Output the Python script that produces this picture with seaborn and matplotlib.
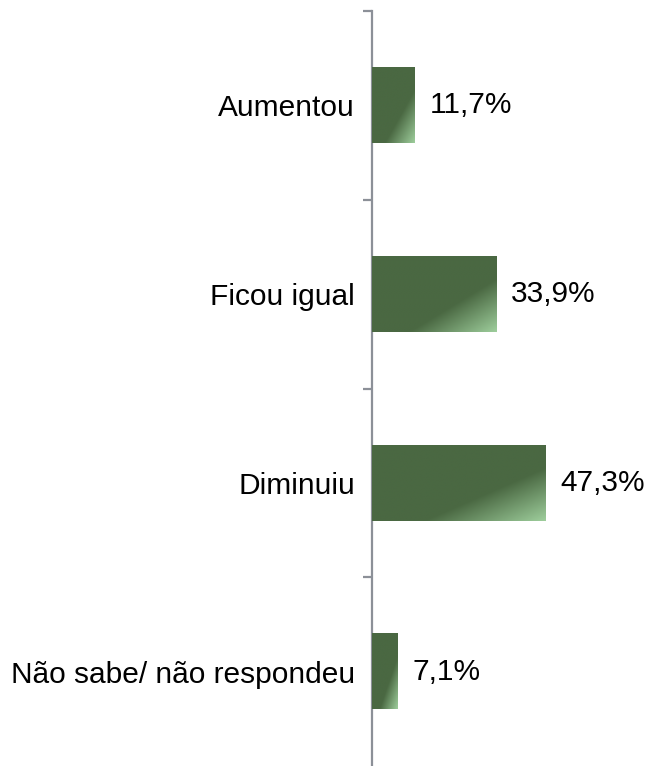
import numpy as np
import pandas as pd
import matplotlib
matplotlib.use("Agg")
import matplotlib.pyplot as plt
import seaborn as sns

categories = ['Aumentou', 'Ficou igual', 'Diminuiu', 'Não sabe/ não respondeu']
values = [11.7, 33.9, 47.3, 7.1]
value_labels = ['11,7%', '33,9%', '47,3%', '7,1%']

sns.set_style("white")
plt.rcParams['font.family'] = ['Liberation Sans', 'DejaVu Sans']

dark = np.array([74, 104, 66]) / 255
light = np.array([158, 206, 156]) / 255

df = pd.DataFrame({'cat': categories, 'val': values})

fig = plt.figure(figsize=(6.46, 7.66), dpi=100)
ax = fig.add_axes([372 / 646, 0, 274 / 646, 755 / 766])

sns.barplot(data=df, x='val', y='cat', orient='h', color=tuple(dark),
            width=0.40, saturation=1, ax=ax)

# diagonal gradient on each bar
n = 200
u = np.linspace(0, 1, n)[None, :]
v = np.linspace(1, 0, n)[:, None]
t = np.clip((u - v - 0.3) / 0.7, 0, 1)
grad = dark[None, None, :] + t[:, :, None] * (light - dark)[None, None, :]

for p in ax.patches:
    x0, y0 = p.get_x(), p.get_y()
    w, h = p.get_width(), p.get_height()
    ax.imshow(grad, extent=(x0, x0 + w, y0 + h, y0), origin='upper',
              aspect='auto', zorder=3, interpolation='bilinear')

for i, (val, lab) in enumerate(zip(values, value_labels)):
    ax.text(val + 4.1, i, lab, va='center', ha='left', fontsize=21.5,
            color='black')

ax.set_xlim(0, 274 / 3.66)
ax.set_ylim(3.5, -0.5)
ax.set_xlabel('')
ax.set_ylabel('')
ax.set_xticks([])

for s in ['top', 'right', 'bottom']:
    ax.spines[s].set_visible(False)
ax.spines['left'].set_color('#8c9098')
ax.spines['left'].set_linewidth(1.6)

ax.set_yticks(range(len(categories)))
ax.set_yticklabels(categories, fontsize=21.5, color='black')
ax.tick_params(axis='y', which='major', left=False, length=0, pad=12.2)
ax.set_yticks([-0.5, 0.5, 1.5, 2.5], minor=True)
ax.tick_params(axis='y', which='minor', left=True, length=6.5, width=1.6,
               color='#8c9098', direction='out')

fig.savefig('out.png', dpi=100)
